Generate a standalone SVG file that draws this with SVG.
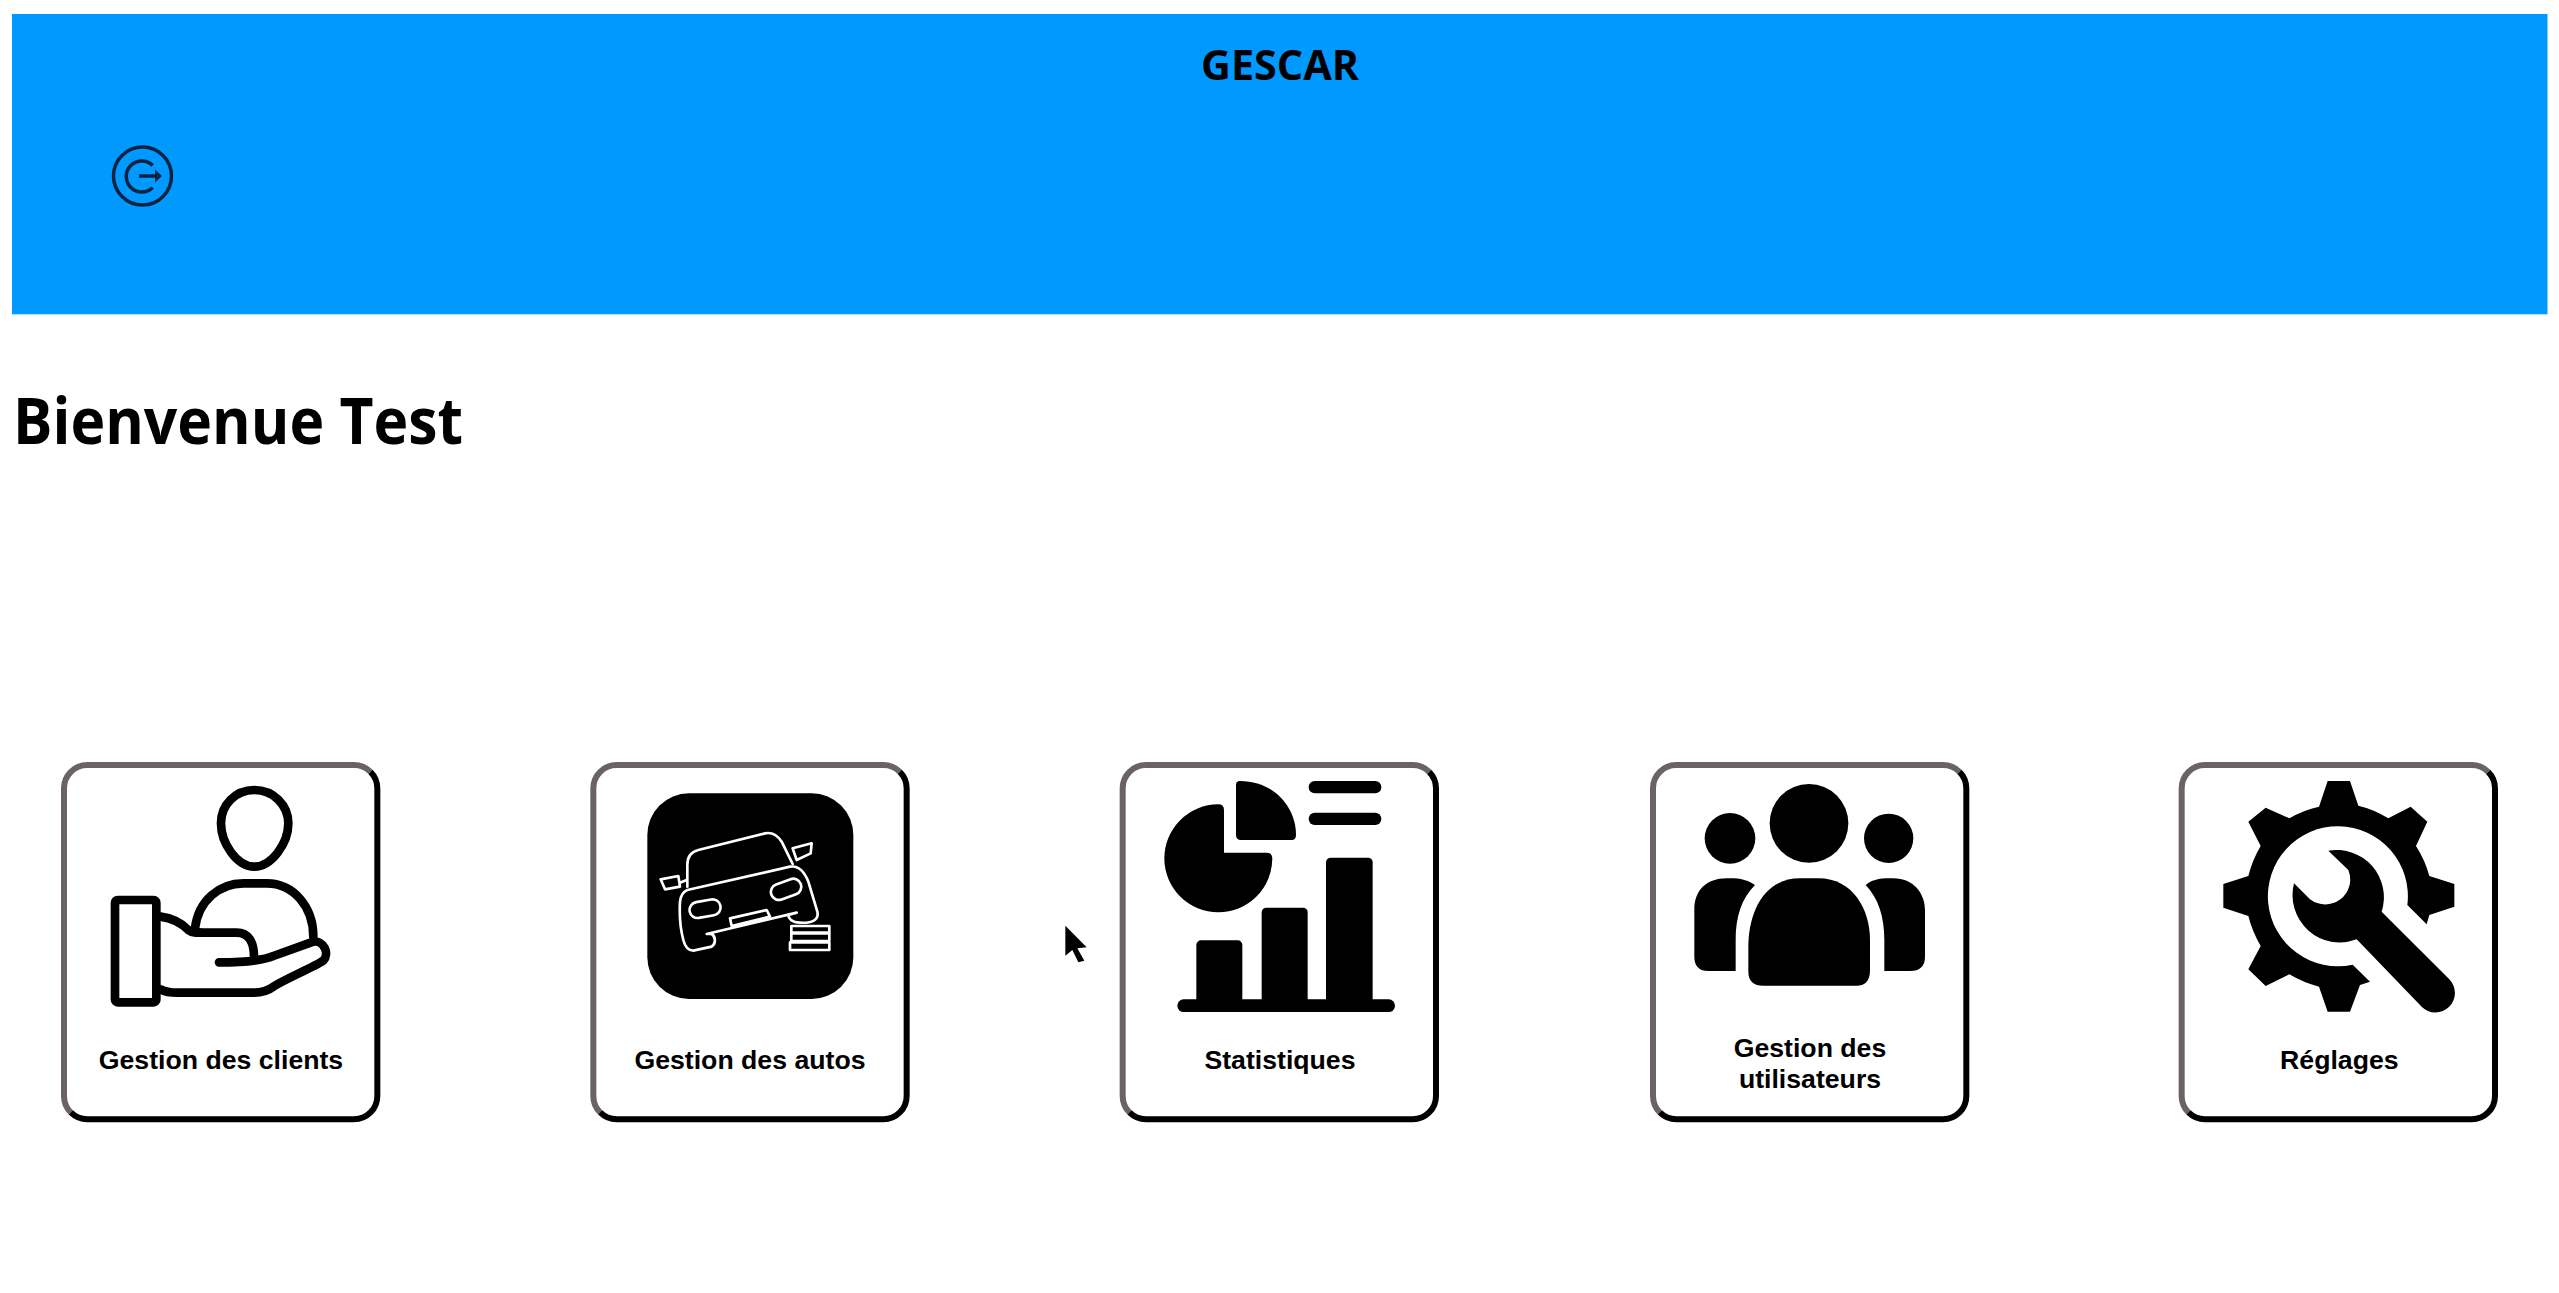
<svg xmlns="http://www.w3.org/2000/svg" width="2559" height="1293" viewBox="0 0 2559 1293">
<style>
.ttl{font-family:"Open Sans","Noto Sans",sans-serif;font-weight:700;fill:#000}
.lbl{font-family:"Liberation Sans",Arial,sans-serif;font-weight:700;font-size:80px;fill:#000;text-anchor:middle}
.tl{fill:none;stroke:#6b6363;stroke-width:18}
.br{fill:none;stroke:#000;stroke-width:18}
.bg{fill:#fff;stroke:none}
.ln{fill:none;stroke:#000;stroke-width:26;stroke-linecap:round;stroke-linejoin:round}
.wl{fill:none;stroke:#fff;stroke-width:8;stroke-linecap:round;stroke-linejoin:round}
</style>
<defs>
<g id="frame">
<rect class="bg" x="70" y="73" width="943" height="1065" rx="70"/>
<path class="tl" d="M92.500 1117.500A70 70 0 0 1 72 1068V145A70 70 0 0 1 142 75H942A70 70 0 0 1 991.500 95.500"/>
<path class="br" d="M991.500 95.500A70 70 0 0 1 1012 145V1068A70 70 0 0 1 942 1138H142A70 70 0 0 1 92.500 1117.500"/>
</g>
</defs>
<rect width="2559" height="1293" fill="#fff"/>
<g id="header">
<rect x="12" y="14" width="2535.500" height="300.300" fill="#0099ff"/>
<text class="ttl" x="1280" y="80" font-size="42" text-anchor="middle" textLength="158" lengthAdjust="spacingAndGlyphs">GESCAR</text>
<g id="logout" fill="none" stroke="#0a2340" stroke-width="3.500">
<circle cx="142.500" cy="176" r="29"/>
<path d="M152.700 165.500A15.500 15.500 0 1 0 152.700 187.500"/>
<path d="M139 176H157"/>
<path d="M155 169.500L162 176L155 182.500Z" fill="#0a2340" stroke="none"/>
</g>
</g>
<text id="welcome" class="ttl" x="13" y="444" font-size="64" textLength="450" lengthAdjust="spacingAndGlyphs">Bienvenue Test</text>
<g id="card-clients" transform="translate(40 740) scale(.33333)">
<use href="#frame"/>
<path class="ln" d="M643 150C700 150 745 195 745 250C745 310 695 380 643 380C591 380 543 310 543 250C543 195 586 150 643 150Z"/>
<path class="ln" d="M465 565C475 480 540 430 610 430H680C760 430 820 500 820 590"/>
<rect class="ln" x="225" y="480" width="124" height="307" rx="8"/>
<path class="ln" d="M362 530C400 535 425 550 445 570C455 578 470 578 490 578H590C625 578 642 605 642 650"/>
<path class="ln" d="M537 667C590 667 660 665 700 648L820 605C850 600 870 640 850 662C820 682 740 715 700 740C680 755 660 758 640 758H410C390 758 375 755 362 748"/>
<text class="lbl" x="543" y="988">Gestion des clients</text>
</g>
<g id="card-autos" transform="translate(570 740) scale(.33333)">
<use href="#frame" transform="translate(-2 0)"/>
<rect x="232" y="160" width="618" height="617" rx="125" fill="#000"/>
<path class="wl" d="M352 440V375C352 350 365 335 385 330L585 280C610 275 625 290 635 305L668 372"/>
<path class="wl" d="M352 450L660 380C690 375 705 400 715 425L742 515C748 540 725 550 690 548C665 548 655 535 655 525L680 518L410 582H425C438 590 438 612 425 620L370 632C355 632 345 620 340 600C332 570 328 520 330 485C332 465 340 455 352 450Z"/>
<path class="wl" d="M272 418L325 408L330 440L285 448ZM330 428L350 420M668 325L725 310L722 340L680 360Z"/>
<rect class="wl" x="358" y="482" width="94" height="48" rx="24" transform="rotate(-10 405 505)"/>
<rect class="wl" x="601" y="424" width="94" height="48" rx="24" transform="rotate(-20 648 447)"/>
<path class="wl" d="M480 535L590 510L600 530L485 558Z"/>
<path class="wl" d="M664 558H778V578H664ZM664 580H778V603H664ZM660 607H778V630H660Z"/>
<text class="lbl" x="540" y="988">Gestion des autos</text>
</g>
<g id="card-stats" transform="translate(1040 740) scale(.33333)">
<use href="#frame" transform="translate(176 0)"/>
<path d="M552 338H680Q697 338 697 355A162 162 0 1 1 535 193Q552 193 552 210Z"/>
<path d="M588 135Q588 123 600 123C700 123 768 200 768 285Q768 300 755 300H603Q588 300 588 285Z"/>
<rect x="806" y="123" width="218" height="37" rx="18"/>
<rect x="806" y="218" width="218" height="37" rx="18"/>
<rect x="469" y="601" width="138" height="195" rx="14"/>
<rect x="665" y="503" width="138" height="293" rx="14"/>
<rect x="858" y="353" width="140" height="443" rx="14"/>
<rect x="412" y="778" width="653" height="38" rx="19"/>
<text class="lbl" x="720" y="988">Statistiques</text>
</g>
<path id="cursor" transform="translate(1040 740) scale(.33333)" d="M76 557L140 622L112 625L133 662L115 667L97 630L76 647Z"/>
<g id="card-users" transform="translate(1630 740) scale(.33333)">
<use href="#frame" transform="translate(-3 0)"/>
<circle cx="537" cy="250" r="118"/>
<circle cx="300" cy="295" r="76"/>
<circle cx="776" cy="295" r="74"/>
<path d="M355 620C355 520 400 415 510 415H565C670 415 720 510 720 600V690Q720 737 680 737H400Q355 737 355 695Z"/>
<path d="M375 435C345 415 320 415 290 415C230 415 193 450 193 510V650Q193 693 235 693H317V600C317 530 335 475 375 435Z"/>
<path d="M707 435C730 415 760 415 790 415C850 415 885 460 885 510V650Q885 693 840 693H763V600C763 530 745 475 707 435Z"/>
<text class="lbl" x="540" y="950">Gestion des</text>
<text class="lbl" x="540" y="1045">utilisateurs</text>
</g>
<g id="card-settings" transform="translate(2160 740) scale(.33333)">
<use href="#frame" transform="translate(-7 0)"/>
<path d="M477 200L503 123H570L595 197Q642 208 685 235L752 200L802 245L768 318Q795 360 808 408L883 432V500L808 525L800 553L742 495A210 210 0 1 0 578 674L630 725L600 735L570 815H503L477 740Q430 728 388 703L317 738L265 688L302 618Q277 575 265 528L190 503V432L265 408Q277 360 302 318L265 245L317 203L388 235Q430 210 477 200Z"/>
<path d="M505 332A142 142 0 0 1 665 515L868 718A58 58 0 0 1 785 800L590 598A142 142 0 0 1 402 430L450 478A75 75 0 0 0 565 390Z"/>
<text class="lbl" x="538" y="988">Réglages</text>
</g>
<g id="connectors"/>
</svg>
